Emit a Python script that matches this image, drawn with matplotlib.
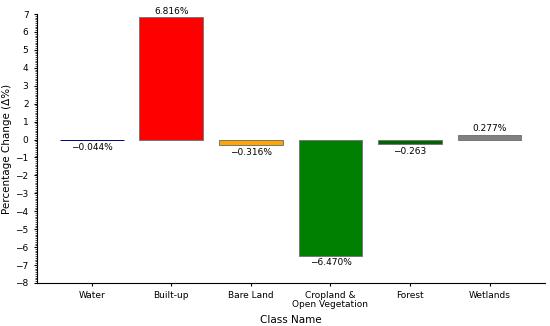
import matplotlib
matplotlib.use("Agg")
import matplotlib.pyplot as plt
from matplotlib.ticker import MultipleLocator

classes = ["Water", "Built-up", "Bare Land", "Cropland &\nOpen Vegetation", "Forest", "Wetlands"]
change = [-0.044, 6.816, -0.316, -6.470, -0.263, 0.277]
labels = ["\u22120.044%", "6.816%", "\u22120.316%", "\u22126.470%", "\u22120.263", "0.277%"]
colors = ["navy", "red", "orange", "green", "darkgreen", "gray"]

fig = plt.figure(figsize=(5.5, 3.26), dpi=100)
ax = fig.add_axes([0.067, 0.132, 0.923, 0.825])
bars = ax.bar(range(len(classes)), change, width=0.8, color=colors,
              edgecolor=["navy"] + ["#777777"] * 5, linewidth=0.7)
for b, v, t in zip(bars, change, labels):
    x = b.get_x() + b.get_width() / 2
    if v >= 0:
        ax.text(x, v + 0.08, t, ha="center", va="bottom", fontsize=6.5)
    else:
        ax.text(x, v - 0.15, t, ha="center", va="top", fontsize=6.5)

ax.set_ylim(-8, 7)
ax.yaxis.set_major_locator(MultipleLocator(1))
ax.yaxis.set_minor_locator(MultipleLocator(0.1))
ax.tick_params(axis="y", which="minor", length=1.5, width=0.5)
ax.tick_params(axis="both", which="major", labelsize=6.5, length=2.5)
ax.set_xticks(range(len(classes)))
ax.set_xticklabels(classes, fontsize=6.5, linespacing=1.0)
ax.set_xlabel("Class Name", fontsize=7.5)
ax.set_ylabel("Percentage Change (\u0394%)", fontsize=7.5, labelpad=2)
ax.spines["top"].set_visible(False)
ax.spines["right"].set_visible(False)
fig.savefig("out.png", dpi=100)
